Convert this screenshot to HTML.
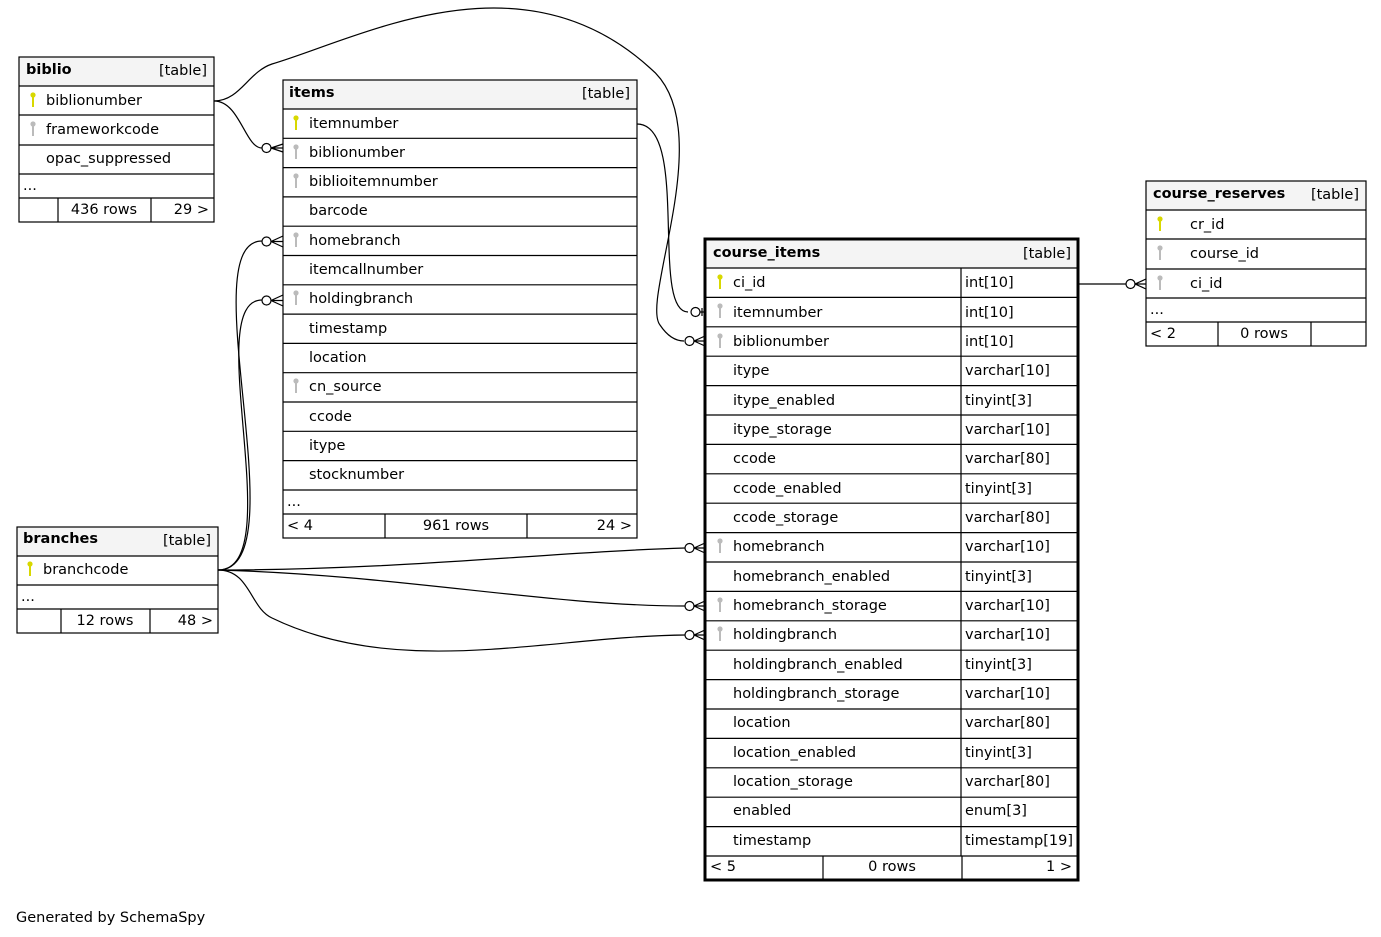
<!DOCTYPE html>
<html><head><meta charset="utf-8"><style>
html,body{margin:0;padding:0;background:#fff;}
svg{display:block;font-family:"DejaVu Sans","Liberation Sans",sans-serif;font-size:14.5px;}
.h{font-weight:bold;}
.b{fill:none;stroke:#000;stroke-width:1.2;}
.e{fill:none;stroke:#000;stroke-width:1.2;}
</style></head><body>
<svg width="1381" height="937" viewBox="0 0 1381 937">
<defs>
<g id="ky"><circle cx="0" cy="-5" r="2.6" fill="#d8d800"/><rect x="-1" y="-4" width="2" height="11" fill="#d8d800"/></g>
<g id="kg"><circle cx="0" cy="-5" r="2.6" fill="#bbb"/><rect x="-1" y="-4" width="2" height="11" fill="#bbb"/></g>
</defs>

<g class="e">
<path d="M214,101 C240,101 245,148 262,148"/>
<path d="M214,101 C240,101 248,72 272,64 C360,38 520,-50 650,68 C720,125 640,300 660,325 C670,340 680,341 684,341"/>
<path d="M637,124 C690,124 650,312 688,312"/>
<path d="M218,570 C300,570 190,241 262,241"/>
<path d="M218,570 C290,570 200,300 262,300"/>
<path d="M218,570 C400,570 550,552 685,548"/>
<path d="M218,570 C400,575 550,606 685,606"/>
<path d="M218,570 C250,570 250,608 272,618 C400,680 550,636 685,635"/>
<path d="M1078,284 L1126,284"/>
</g>
<g fill="#fff" stroke="#000" stroke-width="1.2">
<circle cx="266.5" cy="148" r="4.5"/>
<circle cx="266.5" cy="241.5" r="4.5"/>
<circle cx="266.5" cy="300.5" r="4.5"/>
<circle cx="695.5" cy="312" r="4.5"/>
<circle cx="689.5" cy="341" r="4.5"/>
<circle cx="689.5" cy="548" r="4.5"/>
<circle cx="689.5" cy="606" r="4.5"/>
<circle cx="689.5" cy="635" r="4.5"/>
<circle cx="1130.5" cy="284" r="4.5"/>
</g>
<g class="e">
<path d="M271,148 L283,144 M271,148 L283,152 M271,148 L283,148"/>
<path d="M271,241.5 L283,236 M271,241.5 L283,247 M271,241.5 L283,241.5"/>
<path d="M271,300.5 L283,295 M271,300.5 L283,306 M271,300.5 L283,300.5"/>
<path d="M700,312 L705,312 M702,308 L702,316"/>
<path d="M694,341 L705,336 M694,341 L705,346 M694,341 L705,341"/>
<path d="M694,548 L705,543 M694,548 L705,553 M694,548 L705,548"/>
<path d="M694,606 L705,601 M694,606 L705,611 M694,606 L705,606"/>
<path d="M694,635 L705,630 M694,635 L705,640 M694,635 L705,635"/>
<path d="M1135,284 L1146,279 M1135,284 L1146,289 M1135,284 L1146,284"/>
</g>

<!-- biblio -->
<rect x="19" y="57" width="195" height="29" fill="#f4f4f4"/>
<rect x="19" y="57" width="195" height="165" class="b"/>
<path class="b" d="M19,86H214M19,115H214M19,145H214M19,174H214M19,198H214M58,198V222M151,198V222"/>
<text x="26" y="74" class="h">biblio</text><text x="207" y="75" text-anchor="end">[table]</text>
<use href="#ky" x="33" y="100"/><text x="46" y="105">biblionumber</text>
<use href="#kg" x="33" y="129"/><text x="46" y="134">frameworkcode</text>
<text x="46" y="163">opac_suppressed</text>
<text x="23" y="190">...</text>
<text x="104" y="214" text-anchor="middle">436 rows</text><text x="209" y="214" text-anchor="end">29 &gt;</text>

<!-- items -->
<rect x="283" y="80" width="354" height="29" fill="#f4f4f4"/>
<rect x="283" y="80" width="354" height="458" class="b"/>
<path class="b" d="M283,109H637M283,138.3H637M283,167.6H637M283,196.9H637M283,226.2H637M283,255.5H637M283,284.8H637M283,314.1H637M283,343.4H637M283,372.7H637M283,402H637M283,431.3H637M283,460.6H637M283,490H637M283,514H637M385,514V538M527,514V538"/>
<text x="289" y="97" class="h">items</text><text x="630" y="98" text-anchor="end">[table]</text>
<use href="#ky" x="296" y="123"/><text x="309" y="128">itemnumber</text>
<use href="#kg" x="296" y="152"/><text x="309" y="157">biblionumber</text>
<use href="#kg" x="296" y="181"/><text x="309" y="186">biblioitemnumber</text>
<text x="309" y="215">barcode</text>
<use href="#kg" x="296" y="240"/><text x="309" y="245">homebranch</text>
<text x="309" y="274">itemcallnumber</text>
<use href="#kg" x="296" y="298"/><text x="309" y="303">holdingbranch</text>
<text x="309" y="333">timestamp</text>
<text x="309" y="362">location</text>
<use href="#kg" x="296" y="386"/><text x="309" y="391">cn_source</text>
<text x="309" y="421">ccode</text>
<text x="309" y="450">itype</text>
<text x="309" y="479">stocknumber</text>
<text x="287" y="506">...</text>
<text x="287" y="530">&lt; 4</text><text x="456" y="530" text-anchor="middle">961 rows</text><text x="632" y="530" text-anchor="end">24 &gt;</text>

<!-- branches -->
<rect x="17" y="527" width="201" height="29" fill="#f4f4f4"/>
<rect x="17" y="527" width="201" height="106" class="b"/>
<path class="b" d="M17,556H218M17,585H218M17,609H218M61,609V633M150,609V633"/>
<text x="23" y="543" class="h">branches</text><text x="211" y="545" text-anchor="end">[table]</text>
<use href="#ky" x="30" y="569"/><text x="43" y="574">branchcode</text>
<text x="21" y="601">...</text>
<text x="105" y="625" text-anchor="middle">12 rows</text><text x="213" y="625" text-anchor="end">48 &gt;</text>

<!-- course_reserves -->
<rect x="1146" y="181" width="220" height="29" fill="#f4f4f4"/>
<rect x="1146" y="181" width="220" height="165" class="b"/>
<path class="b" d="M1146,210H1366M1146,239H1366M1146,269H1366M1146,298H1366M1146,322H1366M1218,322V346M1311,322V346"/>
<text x="1153" y="198" class="h">course_reserves</text><text x="1359" y="199" text-anchor="end">[table]</text>
<use href="#ky" x="1160" y="224"/><text x="1190" y="229">cr_id</text>
<use href="#kg" x="1160" y="253"/><text x="1190" y="258">course_id</text>
<use href="#kg" x="1160" y="283"/><text x="1190" y="288">ci_id</text>
<text x="1150" y="314">...</text>
<text x="1150" y="338">&lt; 2</text><text x="1264" y="338" text-anchor="middle">0 rows</text>

<!-- course_items -->
<rect x="705" y="239" width="373" height="29" fill="#f4f4f4"/>
<path class="b" d="M705,268H1078M705,297.4H1078M705,326.8H1078M705,356.2H1078M705,385.6H1078M705,415H1078M705,444.4H1078M705,473.8H1078M705,503.2H1078M705,532.6H1078M705,562H1078M705,591.4H1078M705,620.8H1078M705,650.2H1078M705,679.6H1078M705,709H1078M705,738.4H1078M705,767.8H1078M705,797.2H1078M705,826.6H1078M705,856H1078M961,268V856M823,856V880M962,856V880"/>
<rect x="705" y="239" width="373" height="641" fill="none" stroke="#000" stroke-width="3"/>
<text x="713" y="257" class="h">course_items</text><text x="1071" y="258" text-anchor="end">[table]</text>
<g>
<use href="#ky" x="720" y="282"/><text x="733" y="287">ci_id</text><text x="965" y="287">int[10]</text>
<use href="#kg" x="720" y="311"/><text x="733" y="317">itemnumber</text><text x="965" y="317">int[10]</text>
<use href="#kg" x="720" y="341"/><text x="733" y="346">biblionumber</text><text x="965" y="346">int[10]</text>
<text x="733" y="375">itype</text><text x="965" y="375">varchar[10]</text>
<text x="733" y="405">itype_enabled</text><text x="965" y="405">tinyint[3]</text>
<text x="733" y="434">itype_storage</text><text x="965" y="434">varchar[10]</text>
<text x="733" y="463">ccode</text><text x="965" y="463">varchar[80]</text>
<text x="733" y="493">ccode_enabled</text><text x="965" y="493">tinyint[3]</text>
<text x="733" y="522">ccode_storage</text><text x="965" y="522">varchar[80]</text>
<use href="#kg" x="720" y="546"/><text x="733" y="551">homebranch</text><text x="965" y="551">varchar[10]</text>
<text x="733" y="581">homebranch_enabled</text><text x="965" y="581">tinyint[3]</text>
<use href="#kg" x="720" y="605"/><text x="733" y="610">homebranch_storage</text><text x="965" y="610">varchar[10]</text>
<use href="#kg" x="720" y="634"/><text x="733" y="639">holdingbranch</text><text x="965" y="639">varchar[10]</text>
<text x="733" y="669">holdingbranch_enabled</text><text x="965" y="669">tinyint[3]</text>
<text x="733" y="698">holdingbranch_storage</text><text x="965" y="698">varchar[10]</text>
<text x="733" y="727">location</text><text x="965" y="727">varchar[80]</text>
<text x="733" y="757">location_enabled</text><text x="965" y="757">tinyint[3]</text>
<text x="733" y="786">location_storage</text><text x="965" y="786">varchar[80]</text>
<text x="733" y="815">enabled</text><text x="965" y="815">enum[3]</text>
<text x="733" y="845">timestamp</text><text x="965" y="845">timestamp[19]</text>
</g>
<text x="710" y="871">&lt; 5</text><text x="892" y="871" text-anchor="middle">0 rows</text><text x="1072" y="871" text-anchor="end">1 &gt;</text>

<text x="16" y="922">Generated by SchemaSpy</text>
</svg>
</body></html>
